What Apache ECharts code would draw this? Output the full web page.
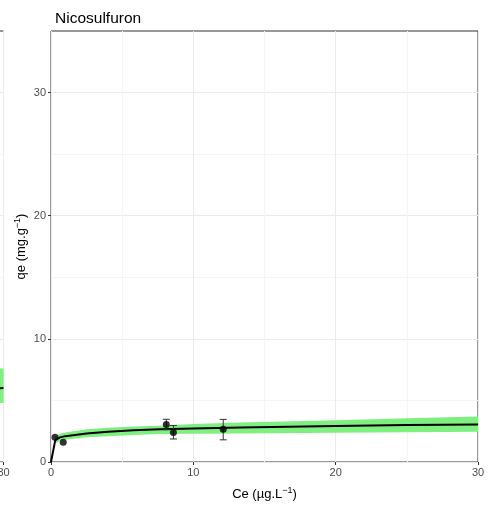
<!DOCTYPE html>
<html>
<head>
<meta charset="utf-8">
<script src="https://cdn.jsdelivr.net/npm/echarts@6/dist/echarts.min.js"></script>
<style>html,body{margin:0;padding:0;background:#fff}#c{width:495px;height:509px}</style>
</head>
<body>
<div id="c"></div>
<script>
// ---- data ----
const title = 'Nicosulfuron';
const xTicks = [0, 10, 20, 30];
const yTicks = [0, 10, 20, 30];
// observed points
const obsCe = [0.28, 0.86, 8.1, 8.6, 12.1];
const obsQe = [2.0, 1.6, 3.05, 2.4, 2.65];
const obsLo = [null, null, 2.62, 1.87, 1.8];
const obsHi = [null, null, 3.47, 2.97, 3.46];
// fitted curve
const fitCe = [0, 0.3, 0.63, 1, 2.5, 4, 5.8, 7.65, 10, 13.3, 20, 25, 30];
const fitQe = [0, 1.78, 2.0, 2.1, 2.32, 2.45, 2.57, 2.66, 2.72, 2.8, 2.92, 3.0, 3.05];
// confidence band
const bandCe = [0.28, 0.63, 1, 2.5, 4, 5.8, 7.65, 10, 13.3, 20, 25, 30];
const bandLo = [1.5, 1.7, 1.8, 2.0, 2.1, 2.2, 2.27, 2.29, 2.32, 2.37, 2.41, 2.45];
const bandHi = [2.1, 2.3, 2.4, 2.65, 2.78, 2.88, 2.95, 3.08, 3.2, 3.4, 3.55, 3.7];
// neighbouring (cropped) panel on the left
const leftCe = [26, 30];
const leftQe = [5.95, 6.0];
const leftLo = [4.8, 4.8];
const leftHi = [7.55, 7.6];

const FONT = 'Liberation Sans, Arial, sans-serif';
const GREEN = '#7ff07f';

function bandRenderer(xs, lo, hi) {
  return function (params, api) {
    if (params.dataIndex !== 0) return null;
    const pts = [];
    for (let i = 0; i < xs.length; i++) pts.push(api.coord([xs[i], hi[i]]));
    for (let i = xs.length - 1; i >= 0; i--) pts.push(api.coord([xs[i], lo[i]]));
    return { type: 'polygon', shape: { points: pts }, style: { fill: GREEN }, silent: true };
  };
}

const richName = {
  a: { fontSize: 13, fontFamily: FONT, color: '#000', lineHeight: 16 },
  s: { fontSize: 9, fontFamily: FONT, color: '#000', verticalAlign: 'top', lineHeight: 16, padding: [0, 0, 6, 0] }
};

function xAxisCfg(gi, showName) {
  return {
    gridIndex: gi, type: 'value', min: 0, max: 30, interval: 10,
    axisLine: { show: false },
    axisTick: { show: true, length: 3, lineStyle: { color: '#333' } },
    axisLabel: { color: '#4d4d4d', fontSize: 11, fontFamily: FONT, margin: 5 },
    splitLine: { show: true, lineStyle: { color: '#ebebeb', width: 1 } },
    minorTick: { show: false, splitNumber: 2 },
    minorSplitLine: { show: true, lineStyle: { color: '#f5f5f5', width: 1 } },
    name: showName ? '{a|Ce (µg.L}{s|−1}{a|)}' : '',
    nameLocation: 'middle', nameGap: 24,
    nameTextStyle: { rich: richName }
  };
}
function yAxisCfg(gi, showName) {
  return {
    gridIndex: gi, type: 'value', min: 0, max: 35, interval: 10,
    axisLine: { show: false },
    axisTick: { show: true, length: 3, lineStyle: { color: '#333' }, customValues: yTicks },
    axisLabel: { color: '#4d4d4d', fontSize: 11, fontFamily: FONT, margin: 5, customValues: yTicks },
    splitLine: { show: true, lineStyle: { color: '#ebebeb', width: 1 } },
    minorTick: { show: false, splitNumber: 2 },
    minorSplitLine: { show: true, lineStyle: { color: '#f5f5f5', width: 1 } },
    name: showName ? '{a|qe (mg.g}{s|−1}{a|)}' : '',
    nameLocation: 'middle', nameGap: 22, nameRotate: 90, nameMoveOverlap: false,
    nameTextStyle: { rich: richName }
  };
}

const chart = echarts.init(document.getElementById('c'), null, { renderer: 'canvas' });
chart.setOption({
  animation: false,
  backgroundColor: '#fff',
  title: { text: title, left: 50, top: 6, textStyle: { fontSize: 15.5, fontWeight: 'normal', color: '#000', fontFamily: FONT } },
  grid: [
    { left: 51, right: 17, top: 31, bottom: 47, show: true, borderColor: '#333', borderWidth: 1, backgroundColor: 'transparent', outerBoundsMode: 'none', containLabel: false },
    { left: -423.5, width: 427, top: 31, bottom: 47, show: true, borderColor: '#333', borderWidth: 1, backgroundColor: 'transparent', outerBoundsMode: 'none', containLabel: false }
  ],
  xAxis: [xAxisCfg(0, true), xAxisCfg(1, false)],
  yAxis: [yAxisCfg(0, true), yAxisCfg(1, false)],
  series: [
    { type: 'custom', xAxisIndex: 0, yAxisIndex: 0, data: [[bandCe[0], bandLo[0]]], renderItem: bandRenderer(bandCe, bandLo, bandHi), z: 1 },
    { type: 'line', xAxisIndex: 0, yAxisIndex: 0, data: fitCe.map((x, i) => [x, fitQe[i]]), showSymbol: false, symbol: 'none',
      lineStyle: { color: '#000', width: 2 }, z: 2 },
    { type: 'custom', xAxisIndex: 0, yAxisIndex: 0, z: 3,
      data: obsCe.map((x, i) => [x, obsLo[i], obsHi[i]]).filter(d => d[1] !== null),
      renderItem: function (params, api) {
        const x = api.value(0), lo = api.value(1), hi = api.value(2);
        const t = api.coord([x, hi]), b = api.coord([x, lo]);
        const w = 3.5, st = { stroke: '#333', lineWidth: 1 };
        return { type: 'group', children: [
          { type: 'line', shape: { x1: t[0], y1: t[1], x2: b[0], y2: b[1] }, style: st },
          { type: 'line', shape: { x1: t[0] - w, y1: t[1], x2: t[0] + w, y2: t[1] }, style: st },
          { type: 'line', shape: { x1: b[0] - w, y1: b[1], x2: b[0] + w, y2: b[1] }, style: st }
        ] };
      } },
    { type: 'scatter', xAxisIndex: 0, yAxisIndex: 0, data: obsCe.map((x, i) => [x, obsQe[i]]), symbolSize: 7,
      itemStyle: { color: '#000' }, z: 4 },
    { type: 'custom', xAxisIndex: 1, yAxisIndex: 1, data: [[leftCe[0], leftLo[0]]], renderItem: bandRenderer(leftCe, leftLo, leftHi), z: 1 },
    { type: 'line', xAxisIndex: 1, yAxisIndex: 1, data: leftCe.map((x, i) => [x, leftQe[i]]), showSymbol: false, symbol: 'none',
      lineStyle: { color: '#000', width: 2 }, z: 2 }
  ]
});
</script>
</body>
</html>
